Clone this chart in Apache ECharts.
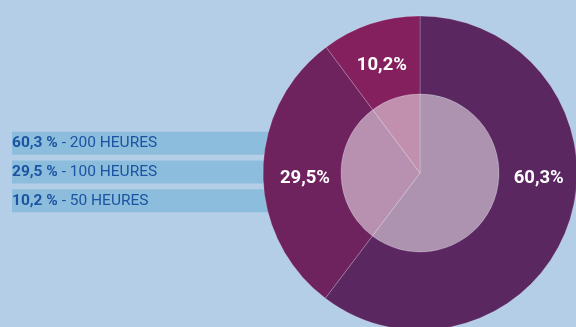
<!DOCTYPE html>
<html><head><meta charset="utf-8">
<script src="https://cdn.jsdelivr.net/npm/echarts@6/dist/echarts.min.js"></script>
<style>html,body{margin:0;padding:0;background:#b3cee6}#c{width:576px;height:327px}</style>
</head><body><div id="c"></div>
<script>
const categories = ['200 HEURES', '100 HEURES', '50 HEURES'];
const values = [60.3, 29.5, 10.2];
const pctLabels = ['60,3 %', '29,5 %', '10,2 %'];
const sliceLabels = ['60,3%', '29,5%', '10,2%'];
const legendBarLength = [1, 1, 1];
const colors = ['#5a2760', '#6f235e', '#83205d'];

const pieData = values.map((v, i) => ({ value: v, name: categories[i], itemStyle: { color: colors[i] } }));
const border = { borderColor: 'rgba(255,255,255,0.35)', borderWidth: 0.6 };
const labelShift = [{ dx: 4, dy: -33 }, { dx: 6, dy: 6 }, { dx: 0, dy: 7 }];

const chart = echarts.init(document.getElementById('c'));
chart.setOption({
  backgroundColor: '#b3cee6',
  animation: false,
  grid: { left: 12, width: 258, top: 128.8, height: 86.4 },
  xAxis: { type: 'value', min: 0, max: 1, show: false },
  yAxis: { type: 'category', data: categories, inverse: true, show: false },
  series: [
    {
      type: 'bar', data: legendBarLength, barCategoryGap: '20%', silent: true,
      itemStyle: { color: '#8dbddd' },
      label: {
        show: true, position: 'insideLeft', distance: 0,
        formatter: p => '{b|' + pctLabels[p.dataIndex] + '}{r| - ' + categories[p.dataIndex] + '}',
        rich: {
          b: { fontFamily: 'Roboto', fontWeight: 'bold', fontSize: 15.5, color: '#1a54a2' },
          r: { fontFamily: 'Roboto', fontSize: 15.5, color: '#1a54a2' }
        }
      }
    },
    {
      type: 'pie', center: [420, 173], radius: [0, 79], startAngle: 90, clockwise: true,
      silent: true, label: { show: false }, labelLine: { show: false },
      itemStyle: border, data: pieData
    },
    {
      type: 'pie', center: [420, 173], radius: [0, 79], silent: true,
      label: { show: false }, labelLine: { show: false },
      data: [{ value: 1, itemStyle: { color: 'rgba(255,255,255,0.5)' } }]
    },
    {
      type: 'pie', center: [420, 173], radius: [79, 157], startAngle: 90, clockwise: true,
      silent: true, itemStyle: border, data: pieData,
      label: {
        show: true, position: 'inside',
        formatter: p => sliceLabels[p.dataIndex],
        fontFamily: 'Roboto', fontWeight: 'bold', fontSize: 18.5, color: '#ffffff'
      },
      labelLine: { show: false },
      labelLayout: p => labelShift[p.dataIndex]
    }
  ]
});
</script></body></html>
